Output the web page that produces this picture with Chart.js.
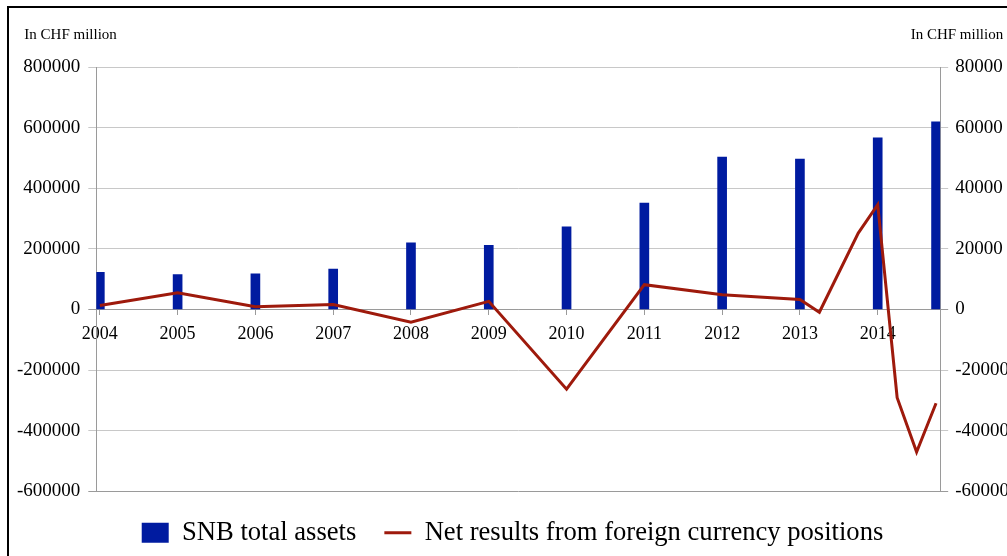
<!DOCTYPE html>
<html>
<head>
<meta charset="utf-8">
<script src="https://cdn.jsdelivr.net/npm/chart.js@4/dist/chart.umd.min.js"></script>
<style>
  html, body { margin: 0; padding: 0; overflow: hidden; background: #fff; }
  #frame { position: absolute; left: 7px; top: 6px; width: 1014px; height: 560px; border: 2px solid #000; }
</style>
</head>
<body>
<div id="frame"><canvas id="snbChart" width="1014" height="560"></canvas></div>
<script>
// x positions in years (the last bar and the last points sit between year ticks)
const yearTicks = [2004, 2005, 2006, 2007, 2008, 2009, 2010, 2011, 2012, 2013, 2014];
const assetYears = [2004, 2005, 2006, 2007, 2008, 2009, 2010, 2011, 2012, 2013, 2014, 2014.75];
const totalAssets = [123000, 115000, 118000, 133000, 220000, 212000, 273000, 351000, 503000, 496000, 566000, 619000];
const resultYears = [2004, 2005, 2006, 2007, 2008, 2009, 2010, 2011, 2012, 2013, 2013.25, 2013.75, 2014, 2014.25, 2014.5, 2014.75];
const fxResults = [1300, 5500, 900, 1650, -4200, 2700, -26300, 8200, 4900, 3300, -900, 25200, 34600, -29100, -47000, -30900];

const unitLabel = 'In CHF million';
const barColor = '#001ba0';
const lineColor = '#9e1a0c';

Chart.defaults.font.family = "'Liberation Serif', 'Times New Roman', serif";
Chart.defaults.color = '#000';

function gridColor(ctx) {
    if (ctx.tick && (ctx.tick.value === 0 || ctx.tick.value === -600000 || ctx.tick.value === -60000)) {
        return '#9a9a9a';
    }
    return '#c8c8c8';
}

//unit text above both axes
const unitText = {
    id: 'unitText',
    afterDraw(chart) {
        const ctx = chart.ctx;
        const area = chart.chartArea;
        ctx.save();
        ctx.font = "15px 'Liberation Serif', serif";
        ctx.fillStyle = '#000';
        ctx.textBaseline = 'middle';
        ctx.textAlign = 'left';
        ctx.fillText(unitLabel, area.left - 72, 27);
        ctx.textAlign = 'right';
        ctx.fillText(unitLabel, area.right + 63, 27);
        ctx.restore();
    }
};

new Chart(document.getElementById('snbChart'), {
    type: 'bar',
    data: {
        datasets: [
            {
                type: 'line',
                label: 'Net results from foreign currency positions',
                data: resultYears.map((x, i) => ({ x: x, y: fxResults[i] })),
                yAxisID: 'y1',
                borderColor: lineColor,
                borderWidth: 3,
                pointRadius: 0,
                tension: 0,
                order: 1
            },
            {
                type: 'bar',
                label: 'SNB total assets',
                data: assetYears.map((x, i) => ({ x: x, y: totalAssets[i] })),
                yAxisID: 'y',
                backgroundColor: barColor,
                borderWidth: 0,
                barThickness: 9,
                order: 2
            }
        ]
    },
    options: {
        responsive: false,
        animation: false,
        layout: { padding: { left: 0, right: 7, top: 59, bottom: 12 } },
        plugins: {
            tooltip: { enabled: false },
            legend: {
                position: 'bottom',
                labels: {
                    font: { size: 26.6 },
                    color: '#000',
                    padding: 28,
                    usePointStyle: true,
                    pointStyleWidth: 27,
                    boxHeight: 20,
                    generateLabels: () => [
                        { text: 'SNB total assets', fillStyle: barColor, strokeStyle: barColor, lineWidth: 0, pointStyle: 'rect', datasetIndex: 1, hidden: false },
                        { text: 'Net results from foreign currency positions', fillStyle: lineColor, strokeStyle: lineColor, lineWidth: 3, pointStyle: 'line', datasetIndex: 0, hidden: false }
                    ]
                }
            }
        },
        scales: {
            x: {
                type: 'linear',
                position: { y: 0 },
                min: 2003.955,
                max: 2014.803,
                offset: false,
                afterBuildTicks: (scale) => { scale.ticks = yearTicks.map(v => ({ value: v })); },
                ticks: { font: { size: 18 }, color: '#000', padding: 9, maxRotation: 0, autoSkip: false, callback: (v) => String(v) },
                grid: { offset: false, drawOnChartArea: false, drawTicks: true, tickLength: 5, color: '#9a9a9a' },
                border: { color: '#9a9a9a', width: 1 }
            },
            y: {
                position: 'left',
                min: -600000,
                max: 800000,
                ticks: { stepSize: 200000, font: { size: 19 }, color: '#000', padding: 8, callback: (v) => String(v) },
                grid: { color: gridColor, tickLength: 8 },
                border: { color: '#9a9a9a', width: 1 }
            },
            y1: {
                position: 'right',
                min: -60000,
                max: 80000,
                ticks: { stepSize: 20000, font: { size: 19 }, color: '#000', padding: 7, callback: (v) => String(v) },
                grid: { drawOnChartArea: false, color: gridColor, tickLength: 8 },
                border: { color: '#9a9a9a', width: 1 }
            }
        }
    },
    plugins: [unitText]
});
</script>
</body>
</html>
